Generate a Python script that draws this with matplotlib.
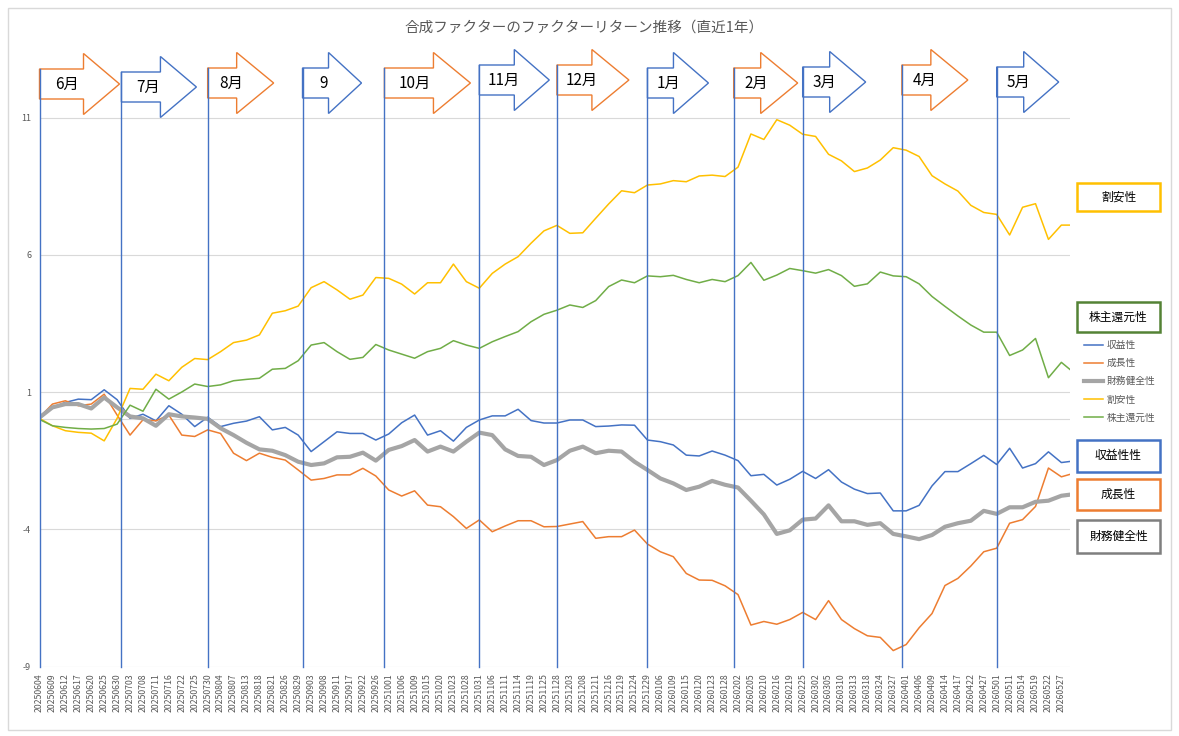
"""合成ファクターのファクターリターン推移（直近1年）のチャートを再現する。"""

from __future__ import annotations

import matplotlib

matplotlib.use("Agg")

import matplotlib.pyplot as plt
import numpy as np
import pandas as pd
from matplotlib.lines import Line2D
from matplotlib.patches import Polygon, Rectangle

plt.rcParams["font.family"] = ["Noto Sans CJK JP", "DejaVu Sans"]
plt.rcParams["axes.unicode_minus"] = False

FIG_W_PX = 1179
FIG_H_PX = 736
DPI = 100

TITLE = "合成ファクターのファクターリターン推移（直近1年）"

# 東証の休場日（平日分）
JP_HOLIDAYS = [
    "2025-07-21", "2025-08-11", "2025-09-15", "2025-09-23", "2025-10-13",
    "2025-11-03", "2025-11-24", "2025-12-31", "2026-01-01", "2026-01-02",
    "2026-01-12", "2026-02-11", "2026-02-23", "2026-03-20", "2026-04-29",
    "2026-05-04", "2026-05-05", "2026-05-06",
]
START_DATE = "2025-06-04"
END_DATE = "2026-05-29"

# 値は3営業日おき（目盛りラベルの日付）と最終営業日で読み取ったもの
SAMPLE_STEP = 3

SERIES_NAMES = ["収益性", "成長性", "財務健全性", "割安性", "株主還元性"]

PROFIT = [
    0.04, 0.44, 0.62, 0.74, 0.72, 1.08, 0.72, 0.04, 0.19, -0.05,
    0.50, 0.19, -0.26, 0.08, -0.26, -0.14, -0.06, 0.10, -0.38, -0.29,
    -0.57, -1.17, -0.81, -0.45, -0.51, -0.51, -0.75, -0.53, -0.12, 0.16,
    -0.57, -0.41, -0.79, -0.29, -0.02, 0.13, 0.13, 0.37, -0.04, -0.13,
    -0.13, -0.02, -0.02, -0.26, -0.24, -0.20, -0.21, -0.75, -0.81, -0.93,
    -1.30, -1.33, -1.15, -1.30, -1.50, -2.05, -2.00, -2.39, -2.18, -1.89,
    -2.15, -1.83, -2.28, -2.54, -2.70, -2.68, -3.33, -3.33, -3.13, -2.42,
    -1.90, -1.90, -1.61, -1.31, -1.64, -1.05, -1.77, -1.61, -1.18, -1.57,
    -1.53,
]
GROWTH = [
    0.07, 0.56, 0.68, 0.50, 0.56, 0.92, 0.16, -0.57, -0.01, -0.05,
    0.16, -0.57, -0.62, -0.38, -0.51, -1.23, -1.50, -1.23, -1.38, -1.48,
    -1.84, -2.21, -2.15, -2.02, -2.02, -1.78, -2.06, -2.57, -2.79, -2.60,
    -3.12, -3.18, -3.54, -3.97, -3.66, -4.09, -3.88, -3.69, -3.69, -3.91,
    -3.90, -3.81, -3.72, -4.33, -4.27, -4.27, -4.03, -4.54, -4.82, -5.00,
    -5.61, -5.85, -5.86, -6.06, -6.38, -7.49, -7.36, -7.46, -7.29, -7.03,
    -7.29, -6.60, -7.29, -7.62, -7.88, -7.94, -8.42, -8.20, -7.59, -7.07,
    -6.05, -5.79, -5.34, -4.82, -4.69, -3.78, -3.65, -3.17, -1.77, -2.09,
    -2.00,
]
HEALTH = [
    0.07, 0.44, 0.56, 0.56, 0.40, 0.80, 0.44, 0.11, 0.04, -0.23,
    0.19, 0.11, 0.07, 0.02, -0.32, -0.57, -0.85, -1.09, -1.14, -1.30,
    -1.54, -1.66, -1.60, -1.38, -1.36, -1.21, -1.50, -1.11, -0.97, -0.75,
    -1.17, -0.99, -1.17, -0.81, -0.48, -0.57, -1.09, -1.33, -1.36, -1.66,
    -1.48, -1.14, -0.99, -1.23, -1.14, -1.17, -1.54, -1.84, -2.15, -2.33,
    -2.57, -2.45, -2.24, -2.38, -2.48, -2.96, -3.46, -4.17, -4.04, -3.65,
    -3.61, -3.13, -3.71, -3.71, -3.84, -3.78, -4.17, -4.26, -4.36, -4.21,
    -3.91, -3.78, -3.69, -3.33, -3.44, -3.20, -3.20, -3.00, -2.96, -2.78,
    -2.74,
]
VALUE = [
    0.04, -0.23, -0.41, -0.47, -0.50, -0.78, 0.04, 1.13, 1.10, 1.65,
    1.41, 1.90, 2.22, 2.18, 2.47, 2.80, 2.89, 3.08, 3.87, 3.96,
    4.13, 4.80, 5.02, 4.72, 4.38, 4.53, 5.17, 5.14, 4.93, 4.57,
    4.98, 4.98, 5.66, 5.02, 4.78, 5.32, 5.66, 5.93, 6.42, 6.87,
    7.07, 6.78, 6.80, 7.33, 7.85, 8.33, 8.26, 8.54, 8.58, 8.70,
    8.66, 8.87, 8.90, 8.85, 9.19, 10.40, 10.20, 10.92, 10.72, 10.39,
    10.31, 9.66, 9.42, 9.03, 9.16, 9.45, 9.90, 9.81, 9.58, 8.88,
    8.58, 8.32, 7.80, 7.54, 7.47, 6.72, 7.73, 7.86, 6.56, 7.08,
    7.08,
]
PAYOUT = [
    0.00, -0.23, -0.29, -0.33, -0.35, -0.33, -0.17, 0.52, 0.30, 1.10,
    0.74, 1.00, 1.29, 1.20, 1.26, 1.41, 1.46, 1.50, 1.83, 1.86,
    2.14, 2.71, 2.80, 2.47, 2.19, 2.26, 2.73, 2.53, 2.38, 2.23,
    2.47, 2.59, 2.87, 2.71, 2.59, 2.83, 3.02, 3.20, 3.56, 3.83,
    3.98, 4.17, 4.08, 4.33, 4.84, 5.08, 4.98, 5.23, 5.20, 5.25,
    5.10, 4.98, 5.10, 5.02, 5.24, 5.72, 5.07, 5.26, 5.50, 5.42,
    5.33, 5.46, 5.24, 4.85, 4.94, 5.37, 5.23, 5.20, 4.94, 4.48,
    4.12, 3.77, 3.44, 3.18, 3.18, 2.33, 2.53, 2.95, 1.52, 2.08,
    1.82,
]

SERIES_COLORS = ["#4472C4", "#ED7D31", "#A5A5A5", "#FFC000", "#70AD47"]
SERIES_WIDTHS = [1.1, 1.1, 3.0, 1.1, 1.1]

Y_TICKS = [-9, -4, 1, 6, 11]
Y_MIN, Y_MAX = -9, 11.3

MONTH_LABELS = ["6月", "7月", "8月", "9", "10月", "11月", "12月", "1月", "2月", "3月", "4月", "5月"]
MONTH_MARK_DATES = [
    "2025-06-04", "2025-07-01", "2025-07-30", "2025-09-01", "2025-09-30", "2025-10-31",
    "2025-11-28", "2025-12-29", "2026-01-30", "2026-02-25", "2026-03-31", "2026-05-01",
]

# 矢印の図形（ピクセル）
ARROW_WIDTH_PX = [80, 75, 66, 59, 86, 70, 72, 61, 64, 63, 66, 62]
ARROW_BODY_PX = [44, 39, 29, 26, 49, 35, 35, 26, 27, 27, 29, 27]
ARROW_MID_Y_PX = [84, 87, 83, 83, 83, 80, 80, 83, 83, 82, 80, 82]
ARROW_BODY_HALF = 15
ARROW_HEAD_HALF = 30.5

# 右側のラベル枠
TAG_LABELS = ["割安性", "株主還元性", "収益性性", "成長性", "財務健全性"]
TAG_COLORS = ["#FFC000", "#548235", "#4472C4", "#ED7D31", "#7F7F7F"]
TAG_TOP_PX = [183, 302, 440, 479, 520]
TAG_BOTTOM_PX = [211, 332, 472, 510, 553]

GRID_COLOR = "#D9D9D9"
TEXT_COLOR = "#595959"
MARK_COLOR = "#4472C4"


def _fx(x_px: float) -> float:
    return x_px / FIG_W_PX


def _fy(y_px: float) -> float:
    return 1 - y_px / FIG_H_PX


def _trading_days() -> pd.DatetimeIndex:
    return pd.bdate_range(START_DATE, END_DATE, freq="C", holidays=JP_HOLIDAYS)


def _draw_month_arrows(fig, ax, dates: pd.DatetimeIndex) -> None:
    to_fig = fig.transFigure.inverted()
    for i, label in enumerate(MONTH_LABELS):
        idx = dates.get_loc(pd.Timestamp(MONTH_MARK_DATES[i]))
        left_disp, bottom_disp = ax.transData.transform((idx, Y_MIN))
        left_px = left_disp
        mid = ARROW_MID_Y_PX[i]
        width = ARROW_WIDTH_PX[i]
        body = ARROW_BODY_PX[i]
        color = "#ED7D31" if i % 2 == 0 else "#4472C4"

        verts = [
            (left_px, mid - ARROW_BODY_HALF),
            (left_px + body, mid - ARROW_BODY_HALF),
            (left_px + body, mid - ARROW_HEAD_HALF),
            (left_px + width, mid),
            (left_px + body, mid + ARROW_HEAD_HALF),
            (left_px + body, mid + ARROW_BODY_HALF),
            (left_px, mid + ARROW_BODY_HALF),
        ]
        fig.add_artist(
            Polygon(
                [(_fx(x), _fy(y)) for x, y in verts],
                closed=True,
                facecolor="white",
                edgecolor=color,
                linewidth=1.0,
                transform=fig.transFigure,
                zorder=5,
            )
        )
        fig.text(
            _fx(left_px + 0.35 * width),
            _fy(mid),
            label,
            ha="center",
            va="center",
            fontsize=11,
            color="black",
            zorder=6,
        )

        x_fig, y_bottom_fig = to_fig.transform((left_disp, bottom_disp))
        fig.add_artist(
            Line2D(
                [x_fig, x_fig],
                [y_bottom_fig, _fy(mid - ARROW_BODY_HALF)],
                color=MARK_COLOR,
                linewidth=1.0,
                transform=fig.transFigure,
                zorder=7,
            )
        )


def _draw_tags(fig) -> None:
    left, right = 1077, 1160
    for label, color, top, bottom in zip(TAG_LABELS, TAG_COLORS, TAG_TOP_PX, TAG_BOTTOM_PX, strict=True):
        fig.add_artist(
            Rectangle(
                (_fx(left), _fy(bottom)),
                _fx(right) - _fx(left),
                _fy(top) - _fy(bottom),
                facecolor="white",
                edgecolor=color,
                linewidth=1.8,
                transform=fig.transFigure,
            )
        )
        fig.text(
            _fx((left + right) / 2),
            _fy((top + bottom) / 2),
            label,
            ha="center",
            va="center",
            fontsize=8.5,
            color="black",
        )


def main() -> None:
    dates = _trading_days()
    sample_idx = np.r_[np.arange(0, len(dates), SAMPLE_STEP), len(dates) - 1]

    fig = plt.figure(figsize=(FIG_W_PX / DPI, FIG_H_PX / DPI), dpi=DPI)
    fig.patch.set_facecolor("white")

    bottom_px = 666.5
    top_px = bottom_px - (Y_MAX - Y_MIN) * 27.45
    ax = fig.add_axes([_fx(39.5), _fy(bottom_px), _fx(1070) - _fx(39.5), _fy(top_px) - _fy(bottom_px)])
    ax.set_xlim(0, len(dates) - 1)
    ax.set_ylim(Y_MIN, Y_MAX)
    for spine in ax.spines.values():
        spine.set_visible(False)

    ax.set_yticks(Y_TICKS)
    ax.yaxis.grid(True, color=GRID_COLOR, linewidth=0.8)
    ax.axhline(0, color=GRID_COLOR, linewidth=0.8, zorder=0.5)
    ax.set_axisbelow(True)
    ax.tick_params(axis="y", length=0, pad=6, labelsize=6.5, labelcolor=TEXT_COLOR)

    tick_pos = np.arange(0, len(dates), SAMPLE_STEP)
    ax.set_xticks(tick_pos)
    ax.set_xticklabels(dates[tick_pos].strftime("%Y%m%d"), rotation=90)
    ax.tick_params(axis="x", length=0, pad=5, labelsize=6.3, labelcolor=TEXT_COLOR)

    series = [PROFIT, GROWTH, HEALTH, VALUE, PAYOUT]
    handles = []
    for name, values, color, width in zip(SERIES_NAMES, series, SERIES_COLORS, SERIES_WIDTHS, strict=True):
        (line,) = ax.plot(sample_idx, values, color=color, linewidth=width, label=name, zorder=2)
        handles.append(line)

    fig.legend(
        handles=handles,
        loc="upper left",
        bbox_to_anchor=(_fx(1084), _fy(340)),
        frameon=False,
        fontsize=7,
        labelcolor=TEXT_COLOR,
        handlelength=2.0,
        handletextpad=0.3,
        labelspacing=0.84,
        borderaxespad=0,
        borderpad=0,
    )

    fig.text(_fx(584), _fy(28), TITLE, ha="center", va="center", fontsize=10.5, color=TEXT_COLOR)

    _draw_month_arrows(fig, ax, dates)
    _draw_tags(fig)

    fig.add_artist(
        Rectangle(
            (_fx(8), _fy(730)),
            _fx(1171) - _fx(8),
            _fy(8) - _fy(730),
            facecolor="none",
            edgecolor=GRID_COLOR,
            linewidth=1.0,
            transform=fig.transFigure,
        )
    )

    fig.savefig("out.png", dpi=DPI, facecolor="white")
    plt.close(fig)


if __name__ == "__main__":
    main()
